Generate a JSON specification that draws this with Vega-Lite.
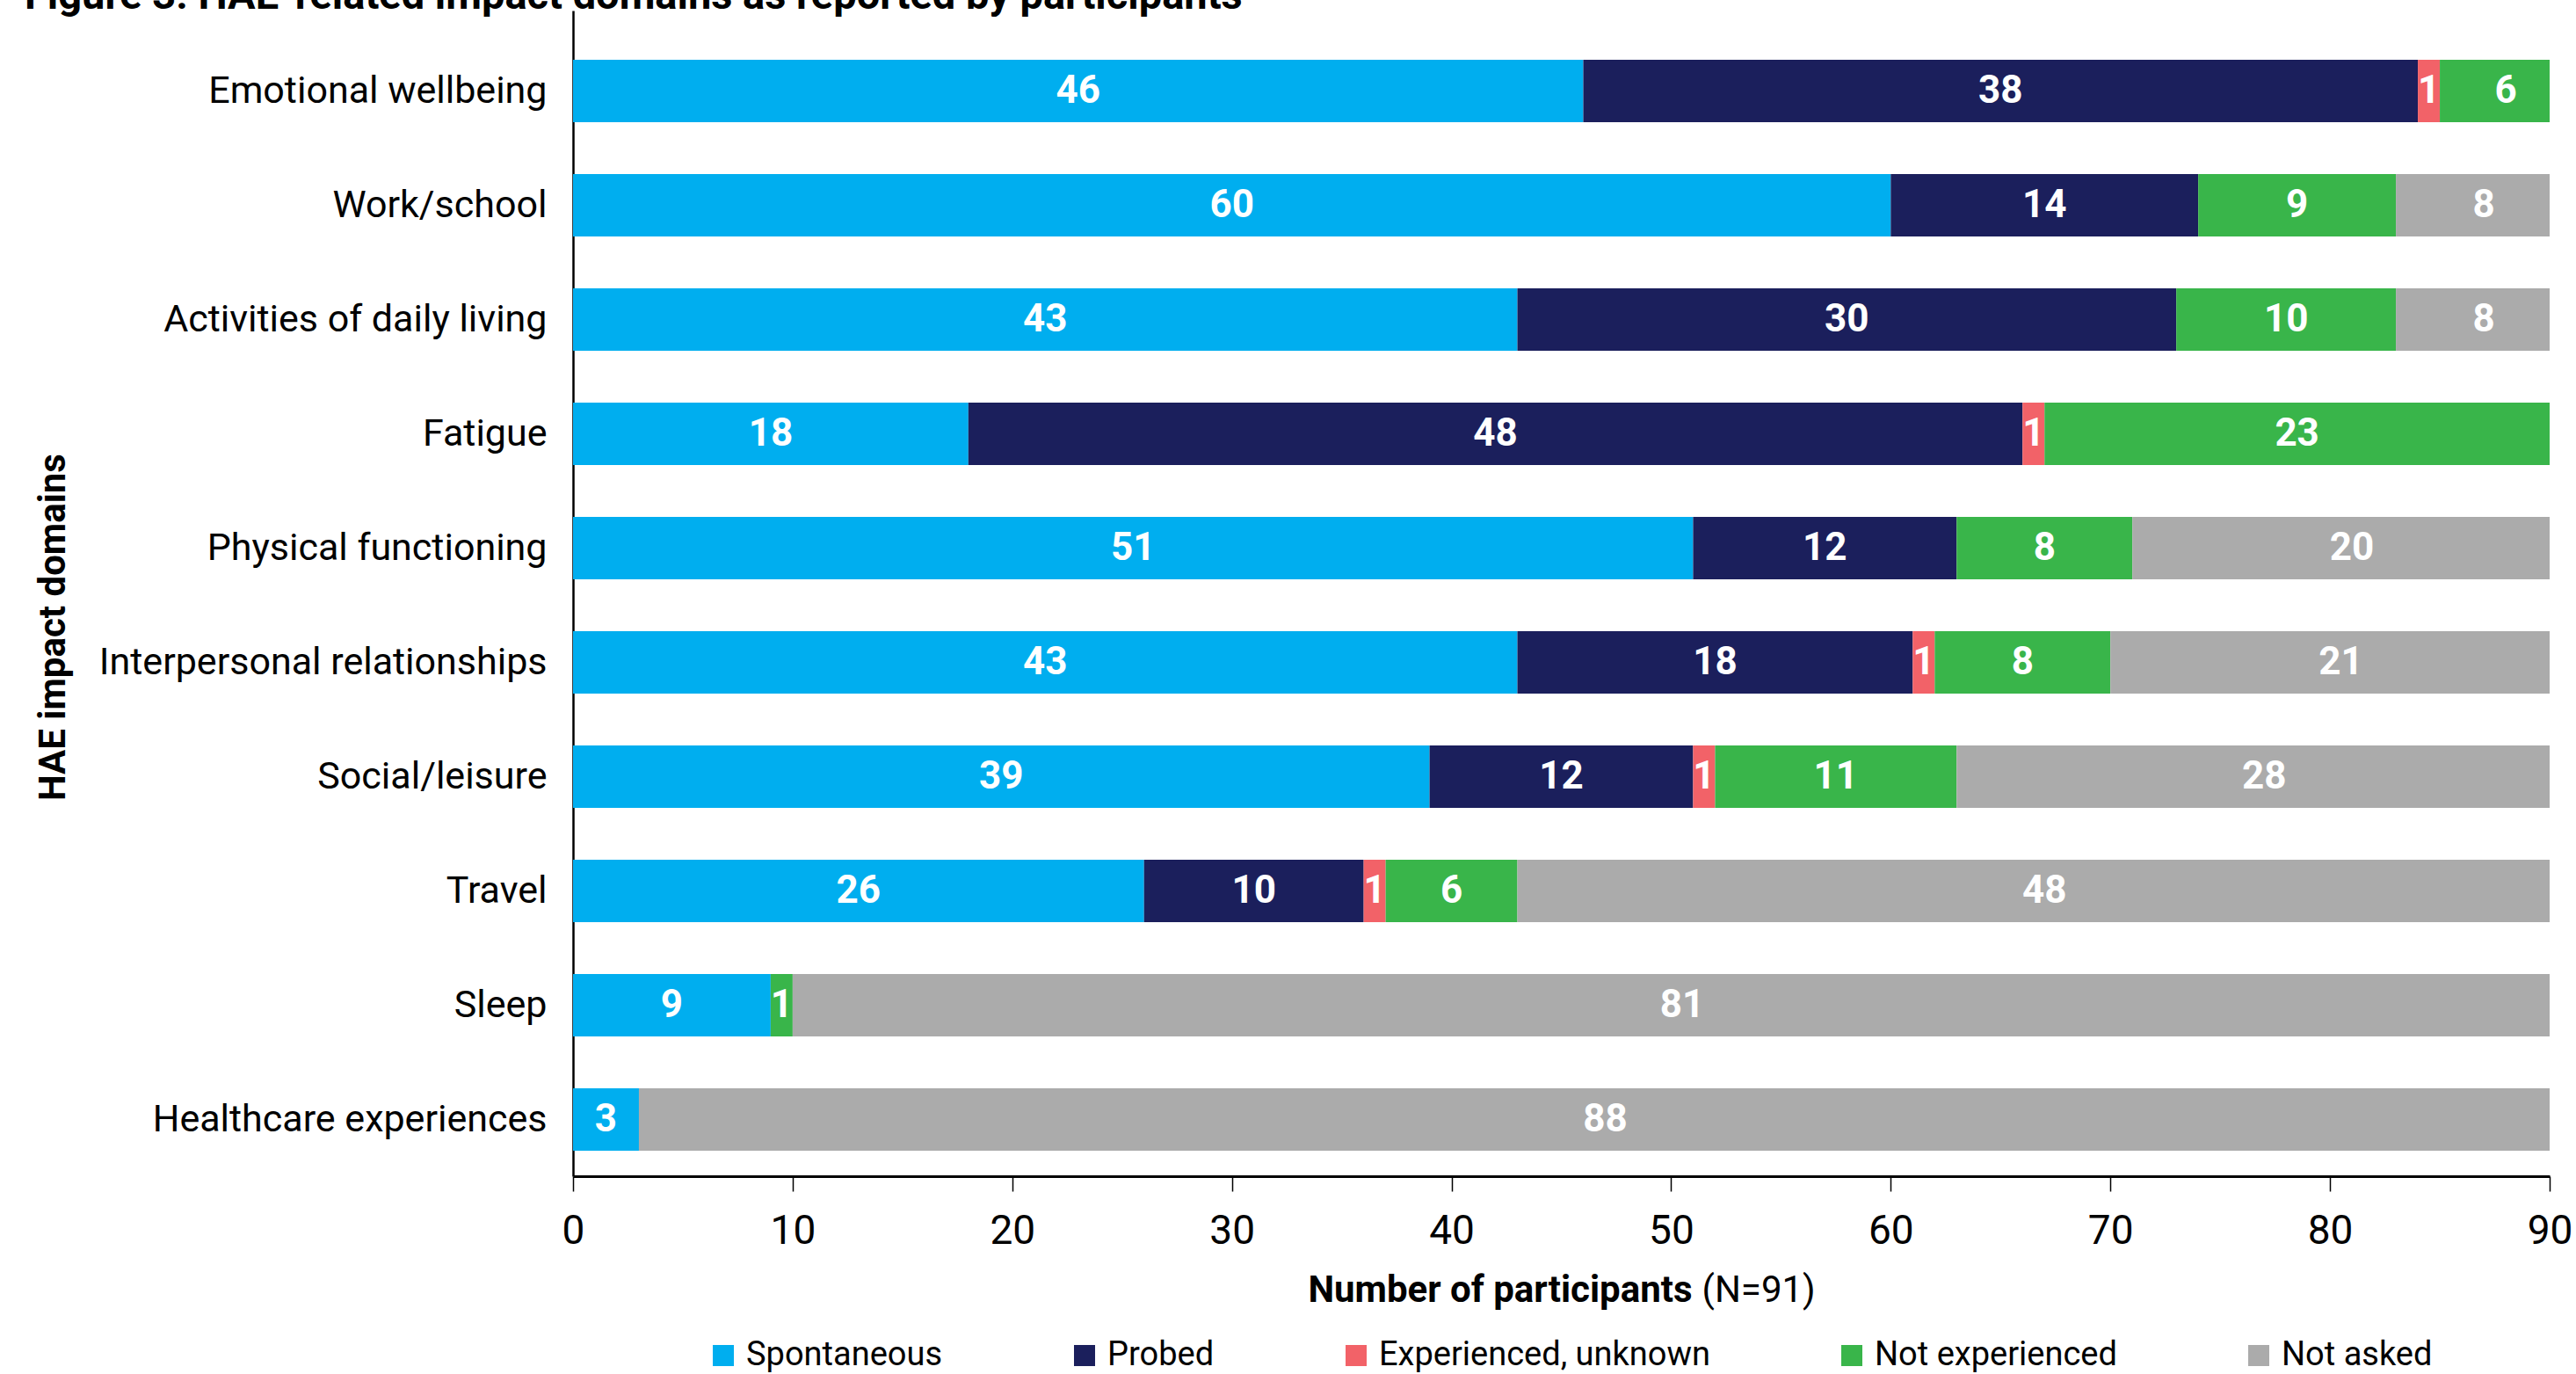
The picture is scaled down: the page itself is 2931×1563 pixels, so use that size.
{
  "$schema": "https://vega.github.io/schema/vega-lite/v6.json",
  "width": 2249,
  "height": 1326,
  "autosize": {"type": "none"},
  "padding": {"left": 652, "top": 12, "right": 30, "bottom": 225},
  "background": "white",
  "config": {"font": "Roboto", "view": {"stroke": null}},
  "title": {
    "text": "Figure 3. HAE-related impact domains as reported by participants",
    "anchor": "start", "frame": "group", "dx": -624, "dy": 45, "offset": 0,
    "baseline": "alphabetic", "fontSize": 47, "font": "Roboto", "fontWeight": "bold", "color": "black"
  },
  "data": {"values": [
    {"domain": "Emotional wellbeing", "status": "Spontaneous", "rank": 1, "n": 46},
    {"domain": "Emotional wellbeing", "status": "Probed", "rank": 2, "n": 38},
    {"domain": "Emotional wellbeing", "status": "Experienced, unknown", "rank": 3, "n": 1},
    {"domain": "Emotional wellbeing", "status": "Not experienced", "rank": 4, "n": 6},
    {"domain": "Work/school", "status": "Spontaneous", "rank": 1, "n": 60},
    {"domain": "Work/school", "status": "Probed", "rank": 2, "n": 14},
    {"domain": "Work/school", "status": "Not experienced", "rank": 4, "n": 9},
    {"domain": "Work/school", "status": "Not asked", "rank": 5, "n": 8},
    {"domain": "Activities of daily living", "status": "Spontaneous", "rank": 1, "n": 43},
    {"domain": "Activities of daily living", "status": "Probed", "rank": 2, "n": 30},
    {"domain": "Activities of daily living", "status": "Not experienced", "rank": 4, "n": 10},
    {"domain": "Activities of daily living", "status": "Not asked", "rank": 5, "n": 8},
    {"domain": "Fatigue", "status": "Spontaneous", "rank": 1, "n": 18},
    {"domain": "Fatigue", "status": "Probed", "rank": 2, "n": 48},
    {"domain": "Fatigue", "status": "Experienced, unknown", "rank": 3, "n": 1},
    {"domain": "Fatigue", "status": "Not experienced", "rank": 4, "n": 23},
    {"domain": "Physical functioning", "status": "Spontaneous", "rank": 1, "n": 51},
    {"domain": "Physical functioning", "status": "Probed", "rank": 2, "n": 12},
    {"domain": "Physical functioning", "status": "Not experienced", "rank": 4, "n": 8},
    {"domain": "Physical functioning", "status": "Not asked", "rank": 5, "n": 20},
    {"domain": "Interpersonal relationships", "status": "Spontaneous", "rank": 1, "n": 43},
    {"domain": "Interpersonal relationships", "status": "Probed", "rank": 2, "n": 18},
    {"domain": "Interpersonal relationships", "status": "Experienced, unknown", "rank": 3, "n": 1},
    {"domain": "Interpersonal relationships", "status": "Not experienced", "rank": 4, "n": 8},
    {"domain": "Interpersonal relationships", "status": "Not asked", "rank": 5, "n": 21},
    {"domain": "Social/leisure", "status": "Spontaneous", "rank": 1, "n": 39},
    {"domain": "Social/leisure", "status": "Probed", "rank": 2, "n": 12},
    {"domain": "Social/leisure", "status": "Experienced, unknown", "rank": 3, "n": 1},
    {"domain": "Social/leisure", "status": "Not experienced", "rank": 4, "n": 11},
    {"domain": "Social/leisure", "status": "Not asked", "rank": 5, "n": 28},
    {"domain": "Travel", "status": "Spontaneous", "rank": 1, "n": 26},
    {"domain": "Travel", "status": "Probed", "rank": 2, "n": 10},
    {"domain": "Travel", "status": "Experienced, unknown", "rank": 3, "n": 1},
    {"domain": "Travel", "status": "Not experienced", "rank": 4, "n": 6},
    {"domain": "Travel", "status": "Not asked", "rank": 5, "n": 48},
    {"domain": "Sleep", "status": "Spontaneous", "rank": 1, "n": 9},
    {"domain": "Sleep", "status": "Not experienced", "rank": 4, "n": 1},
    {"domain": "Sleep", "status": "Not asked", "rank": 5, "n": 81},
    {"domain": "Healthcare experiences", "status": "Spontaneous", "rank": 1, "n": 3},
    {"domain": "Healthcare experiences", "status": "Not asked", "rank": 5, "n": 88}
  ]},
  "encoding": {
    "y": {
      "field": "domain", "type": "nominal",
      "sort": ["Emotional wellbeing", "Work/school", "Activities of daily living", "Fatigue", "Physical functioning", "Interpersonal relationships", "Social/leisure", "Travel", "Sleep", "Healthcare experiences"],
      "scale": {"paddingInner": 0.454, "paddingOuter": 0.327, "align": 0.66},
      "axis": {
        "title": "HAE impact domains", "titleFontSize": 42, "titleFontWeight": "bold", "titleColor": "black",
        "titleAngle": 270, "titleAlign": "center", "titleBaseline": "middle", "titleX": -592, "titleY": 701,
        "labelFontSize": 43, "labelColor": "black", "labelPadding": 30, "labelLimit": 1000,
        "ticks": false, "tickSize": 0, "domain": true, "domainColor": "black", "domainWidth": 2.5
      }
    }
  },
  "layer": [
    {
      "mark": {"type": "bar", "clip": true},
      "encoding": {
        "x": {
          "field": "n", "type": "quantitative", "stack": "zero",
          "scale": {"domain": [0, 90], "nice": false},
          "axis": {
            "orient": "bottom", "values": [0, 10, 20, 30, 40, 50, 60, 70, 80, 90], "grid": false, "labelFlush": false,
            "domainColor": "black", "domainWidth": 3, "tickColor": "black", "tickWidth": 1.5, "tickSize": 17,
            "labelFontSize": 46, "labelColor": "black", "labelPadding": 23,
            "title": "Number of participants", "titleFontSize": 42, "titleFontWeight": "bold", "titleColor": "black",
            "titleAlign": "right", "titleX": 1273, "titleY": 142, "titleBaseline": "alphabetic"
          }
        },
        "order": {"field": "rank", "type": "quantitative", "sort": "ascending"},
        "color": {
          "field": "status", "type": "nominal",
          "scale": {
            "domain": ["Spontaneous", "Probed", "Experienced, unknown", "Not experienced", "Not asked"],
            "range": ["#00AEEF", "#1B1F5C", "#F26268", "#39B54A", "#ABABAB"]
          },
          "legend": {
            "title": null, "orient": "none", "legendX": 152, "legendY": 1511, "direction": "horizontal", "columns": 5,
            "symbolType": "square", "symbolSize": 576, "symbolStrokeWidth": 0, "symbolOpacity": 1,
            "labelFontSize": 38, "labelColor": "black", "labelOffset": 7, "columnPadding": 142, "labelLimit": 1000
          }
        }
      }
    },
    {
      "transform": [
        {"stack": "n", "groupby": ["domain"], "sort": [{"field": "rank", "order": "ascending"}], "as": ["x0", "x1"]},
        {"calculate": "(datum.x0 + datum.x1) / 2", "as": "mid"}
      ],
      "mark": {"type": "text", "fontWeight": "bold", "fontSize": 44, "baseline": "middle", "align": "center", "color": "white"},
      "encoding": {
        "x": {
          "field": "mid", "type": "quantitative",
          "axis": {
            "orient": "bottom", "labels": false, "ticks": false, "domain": false, "grid": false,
            "title": "(N=91)", "titleFontSize": 42, "titleFontWeight": "normal", "titleColor": "black",
            "titleAlign": "left", "titleX": 1284, "titleY": 142, "titleBaseline": "alphabetic"
          }
        },
        "text": {"field": "n", "type": "quantitative"}
      }
    }
  ],
  "resolve": {"axis": {"x": "independent"}}
}
